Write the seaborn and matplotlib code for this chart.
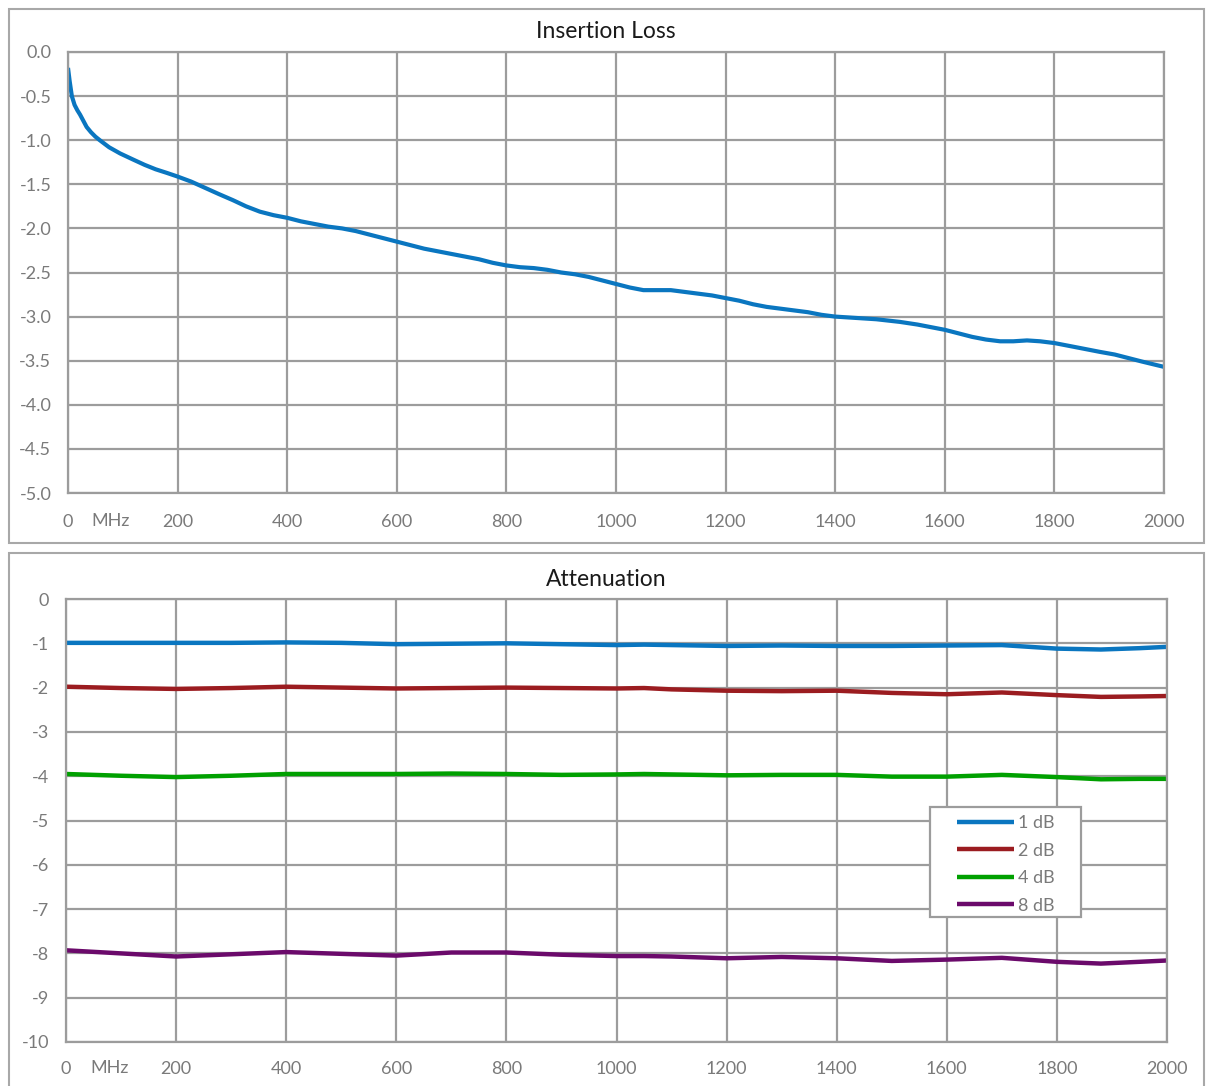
import matplotlib
matplotlib.use("Agg")
import matplotlib.pyplot as plt
import matplotlib.transforms as mtransforms
import seaborn as sns
import numpy as np
import pandas as pd
from matplotlib.patches import Rectangle

# ---- data ----
il_freq = [0, 3, 7, 12, 17, 22, 28, 34, 42, 50, 58, 75, 95, 119, 140, 160, 180,
           199, 225, 250, 275, 301, 325, 350, 375, 400, 425, 450, 475, 500, 525,
           550, 575, 600, 625, 650, 675, 700, 725, 750, 775, 800, 825, 850,
           875, 900, 925, 950, 975, 1000, 1025, 1050, 1075, 1100, 1125, 1150,
           1175, 1200, 1225, 1250, 1275, 1300, 1325, 1350, 1375, 1400, 1425,
           1450, 1475, 1518, 1550, 1575, 1600, 1625, 1650, 1675, 1701, 1725,
           1750, 1774, 1800, 1825, 1850, 1883, 1910, 1935, 1960, 1980, 2000]
il_loss = [-0.18, -0.33, -0.50, -0.60, -0.66, -0.71, -0.78, -0.85, -0.91,
           -0.96, -1.00, -1.08, -1.15, -1.22, -1.28, -1.33, -1.37, -1.41,
           -1.47, -1.54, -1.61, -1.68, -1.75, -1.81, -1.85, -1.88, -1.92,
           -1.95, -1.98, -2.00, -2.03, -2.07, -2.11, -2.15, -2.19, -2.23,
           -2.26, -2.29, -2.32, -2.35, -2.39, -2.42, -2.44, -2.45, -2.47,
           -2.50, -2.52, -2.55, -2.59, -2.63, -2.67, -2.70, -2.70, -2.70,
           -2.72, -2.74, -2.76, -2.79, -2.82, -2.86, -2.89, -2.91, -2.93,
           -2.95, -2.98, -3.00, -3.01, -3.02, -3.03, -3.06, -3.09, -3.12,
           -3.15, -3.19, -3.23, -3.26, -3.28, -3.28, -3.27, -3.28, -3.30,
           -3.33, -3.36, -3.40, -3.43, -3.47, -3.51, -3.54, -3.57]

att_freq = [0, 100, 200, 300, 400, 500, 600, 700, 800, 900, 1000, 1050, 1100,
            1200, 1300, 1400, 1500, 1600, 1700, 1800, 1880, 1950, 2000]
att_1db = [-0.99, -0.99, -0.99, -0.99, -0.98, -0.99, -1.02, -1.01, -1.00, -1.02,
           -1.04, -1.03, -1.04, -1.06, -1.05, -1.06, -1.06, -1.05, -1.04, -1.12,
           -1.14, -1.11, -1.08]
att_2db = [-1.98, -2.01, -2.03, -2.01, -1.98, -2.00, -2.02, -2.01, -2.00, -2.01,
           -2.02, -2.01, -2.04, -2.07, -2.08, -2.07, -2.12, -2.15, -2.11, -2.17,
           -2.21, -2.20, -2.19]
att_4db = [-3.95, -3.99, -4.02, -3.99, -3.95, -3.95, -3.95, -3.94, -3.95, -3.97,
           -3.96, -3.95, -3.96, -3.98, -3.97, -3.97, -4.01, -4.01, -3.97, -4.02,
           -4.07, -4.06, -4.06]
att_8db = [-7.93, -8.00, -8.07, -8.02, -7.97, -8.01, -8.05, -7.98, -7.98, -8.03,
           -8.06, -8.06, -8.07, -8.11, -8.08, -8.11, -8.17, -8.14, -8.10, -8.19,
           -8.23, -8.19, -8.16]

series_names = ["1 dB", "2 dB", "4 dB", "8 dB"]
series_colors = ["#0a76c0", "#9b1c20", "#00a000", "#6b0a6b"]

il_yticks = [0.0, -0.5, -1.0, -1.5, -2.0, -2.5, -3.0, -3.5, -4.0, -4.5, -5.0]
att_yticks = [0, -1, -2, -3, -4, -5, -6, -7, -8, -9, -10]
xticks = [0, 200, 400, 600, 800, 1000, 1200, 1400, 1600, 1800, 2000]

# ---- figure ----
sns.set_style("white")
plt.rcParams["font.family"] = ["Lato", "DejaVu Sans"]
plt.rcParams["axes.unicode_minus"] = False

W, H = 1211, 1086
fig = plt.figure(figsize=(W / 100, H / 100), dpi=100)

grid_c = "#9c9c9c"
text_c = "#7a7a7a"
tick_fs = 13

# panel frames
for (x0, y0, x1, y1) in [(9, 9, 1204, 543), (9, 553, 1204, 1090)]:
    fig.patches.append(Rectangle((x0 / W, 1 - y1 / H), (x1 - x0) / W, (y1 - y0) / H,
                                 transform=fig.transFigure, fill=False,
                                 edgecolor="#a8a8a8", lw=1.5, zorder=0))

ax1 = fig.add_axes([68 / W, 1 - 493 / H, 1096 / W, 441 / H])
ax2 = fig.add_axes([66 / W, 1 - 1042 / H, 1101 / W, 443 / H])
for ax in (ax1, ax2):
    ax.set_facecolor("none")

df_il = pd.DataFrame({"freq": il_freq, "loss": il_loss})
sns.lineplot(data=df_il, x="freq", y="loss", ax=ax1, color="#0a76c0", lw=3.0,
             solid_joinstyle="round", solid_capstyle="butt")

df_att = pd.DataFrame({"freq": att_freq, "1 dB": att_1db, "2 dB": att_2db,
                       "4 dB": att_4db, "8 dB": att_8db})
df_long = df_att.melt(id_vars="freq", var_name="series", value_name="att")
sns.lineplot(data=df_long, x="freq", y="att", hue="series", hue_order=series_names,
             palette=series_colors, ax=ax2, lw=3.2, solid_joinstyle="round",
             solid_capstyle="butt")


def style(ax, yticks, ylabels, ypad, xpad, mhz_x, mhz_dy):
    ax.set_xlim(0, 2000)
    ax.set_ylim(min(yticks), max(yticks))
    ax.set_xticks(xticks)
    ax.set_xticklabels([str(v) for v in xticks])
    ax.set_yticks(yticks)
    ax.set_yticklabels(ylabels)
    ax.grid(True, color=grid_c, lw=1.6)
    ax.set_axisbelow(True)
    for s in ax.spines.values():
        s.set_color(grid_c)
        s.set_linewidth(1.6)
    ax.tick_params(length=0, labelsize=tick_fs, labelcolor=text_c)
    ax.tick_params(axis="y", pad=ypad)
    ax.tick_params(axis="x", pad=xpad)
    ax.set_xlabel("")
    ax.set_ylabel("")
    off = mtransforms.ScaledTranslation(0, mhz_dy / 100, fig.dpi_scale_trans)
    ax.text(mhz_x, 0, "MHz", transform=ax.get_xaxis_transform() + off, ha="left",
            va="center", fontsize=tick_fs, color=text_c)


style(ax1, il_yticks, ["%.1f" % v for v in il_yticks], 12, 15, 42, -28)
style(ax2, att_yticks, [str(v) for v in att_yticks], 12, 14, 45, -26)

fig.text(606 / W, 1 - 32 / H, "Insertion Loss", ha="center", va="center",
         fontsize=16.5, color="#1a1a1a")
fig.text(606 / W, 1 - 579 / H, "Attenuation", ha="center", va="center",
         fontsize=16.5, color="#1a1a1a")

# legend: frame drawn as its own box, entries placed inside it
ax2.add_patch(Rectangle((930 / W, 1 - 917 / H), 151 / W, 110 / H,
                        transform=fig.transFigure, facecolor="white",
                        edgecolor=grid_c, lw=1.6, zorder=5, clip_on=False))
handles, labels = ax2.get_legend_handles_labels()
leg = ax2.legend(handles, labels, loc="upper left",
                 bbox_to_anchor=(957 / W, 1 - 815 / H), bbox_transform=fig.transFigure,
                 frameon=False, fontsize=tick_fs, handlelength=3.15,
                 handletextpad=0.25, labelspacing=0.64, borderpad=0,
                 borderaxespad=0)
leg.set_zorder(6)
for t in leg.get_texts():
    t.set_color(text_c)
for h in leg.legend_handles:
    h.set_linewidth(3.2)

fig.savefig("out.png", dpi=100)
